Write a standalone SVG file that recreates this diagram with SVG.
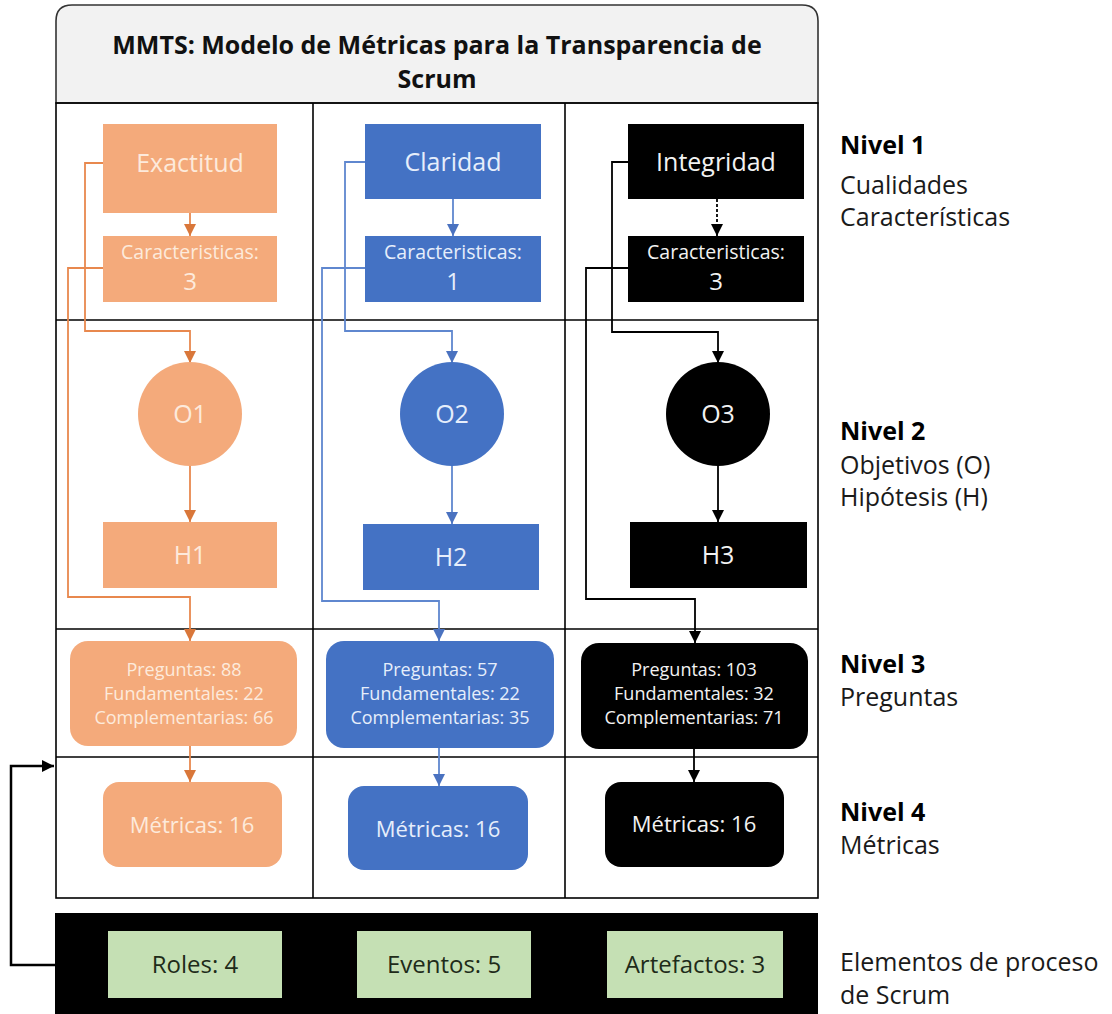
<svg xmlns="http://www.w3.org/2000/svg" width="1112" height="1014" viewBox="0 0 1112 1014">
<style>
text{font-family:"Open Sans","Liberation Sans",sans-serif;text-anchor:middle}
.grid{stroke:#000;stroke-width:1.6;fill:none}
.or{fill:#F4AA7B}
.bl{fill:#4472C4}
.bk{fill:#000}
.tor{fill:#FDEADC}
.tbl{fill:#E6EEFB}
.tbk{fill:#F2F2F2}
.q{font-size:25px}
.c1{font-size:19.5px}
.c2{font-size:24px}
.p{font-size:18px}
.m{font-size:22px}
.lab{text-anchor:start;font-size:25px;fill:#1a1a1a}
.labb{text-anchor:start;font-size:25px;font-weight:bold;fill:#000}
.co{stroke:#E8884E;stroke-width:1.8;fill:none}
.cb{stroke:#5F87CF;stroke-width:1.8;fill:none}
.ck{stroke:#000;stroke-width:1.8;fill:none}
.g{fill:#C5E0B4}
.tg{fill:#1E2B19;font-size:24px}
</style>
<defs>
<marker id="ao" viewBox="0 0 10 10" refX="10" refY="5" markerWidth="12" markerHeight="12" markerUnits="userSpaceOnUse" orient="auto"><path d="M0,0 L10,5 L0,10 Z" fill="#D9773A"/></marker>
<marker id="ab" viewBox="0 0 10 10" refX="10" refY="5" markerWidth="12" markerHeight="12" markerUnits="userSpaceOnUse" orient="auto"><path d="M0,0 L10,5 L0,10 Z" fill="#4A72C0"/></marker>
<marker id="ak" viewBox="0 0 10 10" refX="10" refY="5" markerWidth="12" markerHeight="12" markerUnits="userSpaceOnUse" orient="auto"><path d="M0,0 L10,5 L0,10 Z" fill="#000"/></marker>
</defs>
<rect width="1112" height="1014" fill="#fff"/>

<g id="title">
<path d="M56,103 V21 Q56,5 72,5 H802 Q818,5 818,21 V103 Z" fill="#F2F2F2" stroke="#333" stroke-width="1.6"/>
<text x="437" y="54" font-size="25" font-weight="bold" fill="#111">MMTS: Modelo de Métricas para la Transparencia de</text>
<text x="437" y="88" font-size="25" font-weight="bold" fill="#111">Scrum</text>
</g>

<g id="table">
<rect x="56" y="103" width="762" height="795" class="grid"/>
<line x1="313" y1="103" x2="313" y2="898" class="grid"/>
<line x1="565" y1="103" x2="565" y2="898" class="grid"/>
<line x1="56" y1="320" x2="818" y2="320" class="grid"/>
<line x1="56" y1="629" x2="818" y2="629" class="grid"/>
<line x1="56" y1="757" x2="818" y2="757" class="grid"/>
</g>

<g id="connectors">
<line x1="190" y1="213" x2="190" y2="236" class="co" marker-end="url(#ao)"/>
<polyline points="103,163 85,163 85,331 190,331 190,363" class="co" marker-end="url(#ao)"/>
<polyline points="103,268 68,268 68,597 190,597 190,641" class="co" marker-end="url(#ao)"/>
<line x1="190" y1="466" x2="190" y2="522" class="co" marker-end="url(#ao)"/>
<line x1="190" y1="746" x2="190" y2="782" class="co" marker-end="url(#ao)"/>

<line x1="453" y1="199" x2="453" y2="236" class="cb" marker-end="url(#ab)"/>
<polyline points="365,162 345,162 345,331 452,331 452,363" class="cb" marker-end="url(#ab)"/>
<polyline points="365,268 322,268 322,601 439,601 439,641" class="cb" marker-end="url(#ab)"/>
<line x1="452" y1="466" x2="452" y2="524" class="cb" marker-end="url(#ab)"/>
<line x1="439" y1="748" x2="439" y2="786" class="cb" marker-end="url(#ab)"/>

<line x1="717" y1="199" x2="717" y2="236" class="ck" stroke-dasharray="3,2" marker-end="url(#ak)"/>
<polyline points="628,162 612,162 612,332 718,332 718,363" class="ck" marker-end="url(#ak)"/>
<polyline points="628,268 586,268 586,599 695,599 695,643" class="ck" marker-end="url(#ak)"/>
<line x1="718" y1="466" x2="718" y2="522" class="ck" marker-end="url(#ak)"/>
<line x1="694" y1="749" x2="694" y2="782" class="ck" marker-end="url(#ak)"/>

<polyline points="55,965 11,965 11,766 54,766" fill="none" stroke="#000" stroke-width="2.5" marker-end="url(#ak)"/>
</g>

<g id="exactitud"><rect x="103" y="124" width="174" height="89" class="or"/><text x="190" y="172" class="q tor">Exactitud</text></g>
<g id="car1"><rect x="103" y="236" width="174" height="66" class="or"/><text x="190" y="259" class="c1 tor">Caracteristicas:</text><text x="190" y="290" class="c2 tor">3</text></g>
<g id="o1"><circle cx="190" cy="414" r="52" class="or"/><text x="190" y="423" class="q tor">O1</text></g>
<g id="h1"><rect x="103" y="522" width="174" height="66" class="or"/><text x="190" y="564" class="q tor">H1</text></g>
<g id="preg1"><rect x="70" y="641" width="227" height="105" rx="18" class="or"/><text x="184" y="676" class="p tor">Preguntas: 88</text><text x="184" y="700" class="p tor">Fundamentales: 22</text><text x="184" y="724" class="p tor">Complementarias: 66</text></g>
<g id="met1"><rect x="103" y="782" width="179" height="85" rx="16" class="or"/><text x="192" y="833" class="m tor">Métricas: 16</text></g>

<g id="claridad"><rect x="365" y="124" width="176" height="75" class="bl"/><text x="453" y="171" class="q tbl">Claridad</text></g>
<g id="car2"><rect x="365" y="236" width="176" height="66" class="bl"/><text x="453" y="259" class="c1 tbl">Caracteristicas:</text><text x="453" y="290" class="c2 tbl">1</text></g>
<g id="o2"><circle cx="452" cy="414" r="52" class="bl"/><text x="452" y="423" class="q tbl">O2</text></g>
<g id="h2"><rect x="363" y="524" width="176" height="66" class="bl"/><text x="451" y="566" class="q tbl">H2</text></g>
<g id="preg2"><rect x="326" y="641" width="228" height="107" rx="18" class="bl"/><text x="440" y="676" class="p tbl">Preguntas: 57</text><text x="440" y="700" class="p tbl">Fundamentales: 22</text><text x="440" y="724" class="p tbl">Complementarias: 35</text></g>
<g id="met2"><rect x="348" y="786" width="180" height="84" rx="16" class="bl"/><text x="438" y="837" class="m tbl">Métricas: 16</text></g>

<g id="integridad"><rect x="628" y="124" width="176" height="75" class="bk"/><text x="716" y="171" class="q tbk">Integridad</text></g>
<g id="car3"><rect x="628" y="236" width="176" height="66" class="bk"/><text x="716" y="259" class="c1 tbk">Caracteristicas:</text><text x="716" y="290" class="c2 tbk">3</text></g>
<g id="o3"><circle cx="718" cy="414" r="52" class="bk"/><text x="718" y="423" class="q tbk">O3</text></g>
<g id="h3"><rect x="630" y="522" width="177" height="66" class="bk"/><text x="718" y="564" class="q tbk">H3</text></g>
<g id="preg3"><rect x="581" y="643" width="227" height="106" rx="18" class="bk"/><text x="694" y="676" class="p tbk">Preguntas: 103</text><text x="694" y="700" class="p tbk">Fundamentales: 32</text><text x="694" y="724" class="p tbk">Complementarias: 71</text></g>
<g id="met3"><rect x="605" y="782" width="179" height="85" rx="16" class="bk"/><text x="694" y="832" class="m tbk">Métricas: 16</text></g>

<g id="scrum">
<rect x="55" y="913" width="763" height="101" fill="#000"/>
<g id="roles"><rect x="108" y="931" width="174" height="67" class="g"/><text x="195" y="973" class="tg">Roles: 4</text></g>
<g id="eventos"><rect x="357" y="931" width="174" height="67" class="g"/><text x="444" y="973" class="tg">Eventos: 5</text></g>
<g id="artefactos"><rect x="607" y="931" width="176" height="67" class="g"/><text x="695" y="973" class="tg">Artefactos: 3</text></g>
</g>

<g id="labels">
<text x="840" y="154" class="labb">Nivel 1</text>
<text x="840" y="194" class="lab">Cualidades</text>
<text x="840" y="226" class="lab">Características</text>
<text x="840" y="440" class="labb">Nivel 2</text>
<text x="840" y="474" class="lab">Objetivos (O)</text>
<text x="840" y="506" class="lab">Hipótesis (H)</text>
<text x="840" y="673" class="labb">Nivel 3</text>
<text x="840" y="706" class="lab">Preguntas</text>
<text x="840" y="821" class="labb">Nivel 4</text>
<text x="840" y="854" class="lab">Métricas</text>
<text x="840" y="971" class="lab">Elementos de proceso</text>
<text x="840" y="1004" class="lab">de Scrum</text>
</g>
</svg>
